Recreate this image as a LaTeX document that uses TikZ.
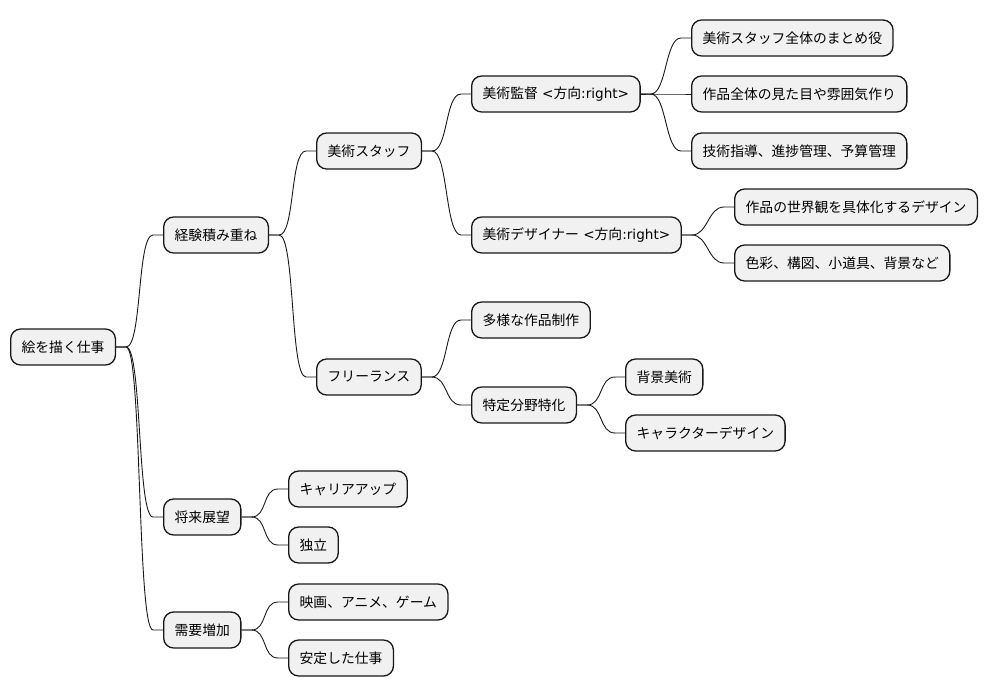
\documentclass[tikz,border=0pt]{standalone}
\usepackage{fontspec}
\setmainfont{Noto Sans CJK JP}
\newfontfamily\lat{DejaVu Sans}
\newcommand{\latsz}{\lat\fontsize{13.6}{16}\selectfont}
\usetikzlibrary{calc}
\definecolor{boxfill}{HTML}{F1F1F1}
\definecolor{ink}{HTML}{181818}
\begin{document}
\begin{tikzpicture}[x=1pt,y=-1pt,
  box/.style={draw=ink,line width=1.3pt,fill=boxfill,rounded corners=10pt,anchor=west,
    minimum height=36pt,inner xsep=11pt,inner ysep=0pt,font=\fontsize{13.8}{16}\selectfont,text=black},
  link/.style={draw=ink,line width=0.9pt,
    to path={-- ++(10,0) .. controls +(16,0) and +(-16,0) .. ($(\tikztotarget)+(-10,0)$) -- (\tikztotarget)}}]
\useasboundingbox (0,0) rectangle (988,696);
\node[box] (root) at (10,347) {絵を描く仕事};
\node[box] (keiken) at (163,235) {経験積み重ね};
\node[box] (staff) at (316,151) {美術スタッフ};
\node[box] (free) at (316,377) {フリーランス};
\node[box] (kantoku) at (471,94) {美術監督{\latsz\ <}方向{\latsz :right>}};
\node[box] (designer) at (471,235) {美術デザイナー{\latsz\ <}方向{\latsz :right>}};
\node[box] (k1) at (691,38) {美術スタッフ全体のまとめ役};
\node[box] (k2) at (691,94) {作品全体の見た目や雰囲気作り};
\node[box] (k3) at (691,151) {技術指導、進捗管理、予算管理};
\node[box] (d1) at (734,207) {作品の世界観を具体化するデザイン};
\node[box] (d2) at (734,263) {色彩、構図、小道具、背景など};
\node[box] (tayo) at (471,320) {多様な作品制作};
\node[box] (tokutei) at (471,405) {特定分野特化};
\node[box] (haikei) at (625,377) {背景美術};
\node[box] (chara) at (625,433) {キャラクターデザイン};
\node[box] (shorai) at (163,517) {将来展望};
\node[box] (career) at (288,489) {キャリアアップ};
\node[box] (dokuritsu) at (288,545) {独立};
\node[box] (juyo) at (163,630) {需要増加};
\node[box] (eiga) at (288,602) {映画、アニメ、ゲーム};
\node[box] (antei) at (288,658) {安定した仕事};
\path[link] (root.east) to (keiken.west);
\path[link] (root.east) to (shorai.west);
\path[link] (root.east) to (juyo.west);
\path[link] (keiken.east) to (staff.west);
\path[link] (keiken.east) to (free.west);
\path[link] (staff.east) to (kantoku.west);
\path[link] (staff.east) to (designer.west);
\path[link] (kantoku.east) to (k1.west);
\path[link] (kantoku.east) to (k2.west);
\path[link] (kantoku.east) to (k3.west);
\path[link] (designer.east) to (d1.west);
\path[link] (designer.east) to (d2.west);
\path[link] (free.east) to (tayo.west);
\path[link] (free.east) to (tokutei.west);
\path[link] (tokutei.east) to (haikei.west);
\path[link] (tokutei.east) to (chara.west);
\path[link] (shorai.east) to (career.west);
\path[link] (shorai.east) to (dokuritsu.west);
\path[link] (juyo.east) to (eiga.west);
\path[link] (juyo.east) to (antei.west);
\end{tikzpicture}
\end{document}
